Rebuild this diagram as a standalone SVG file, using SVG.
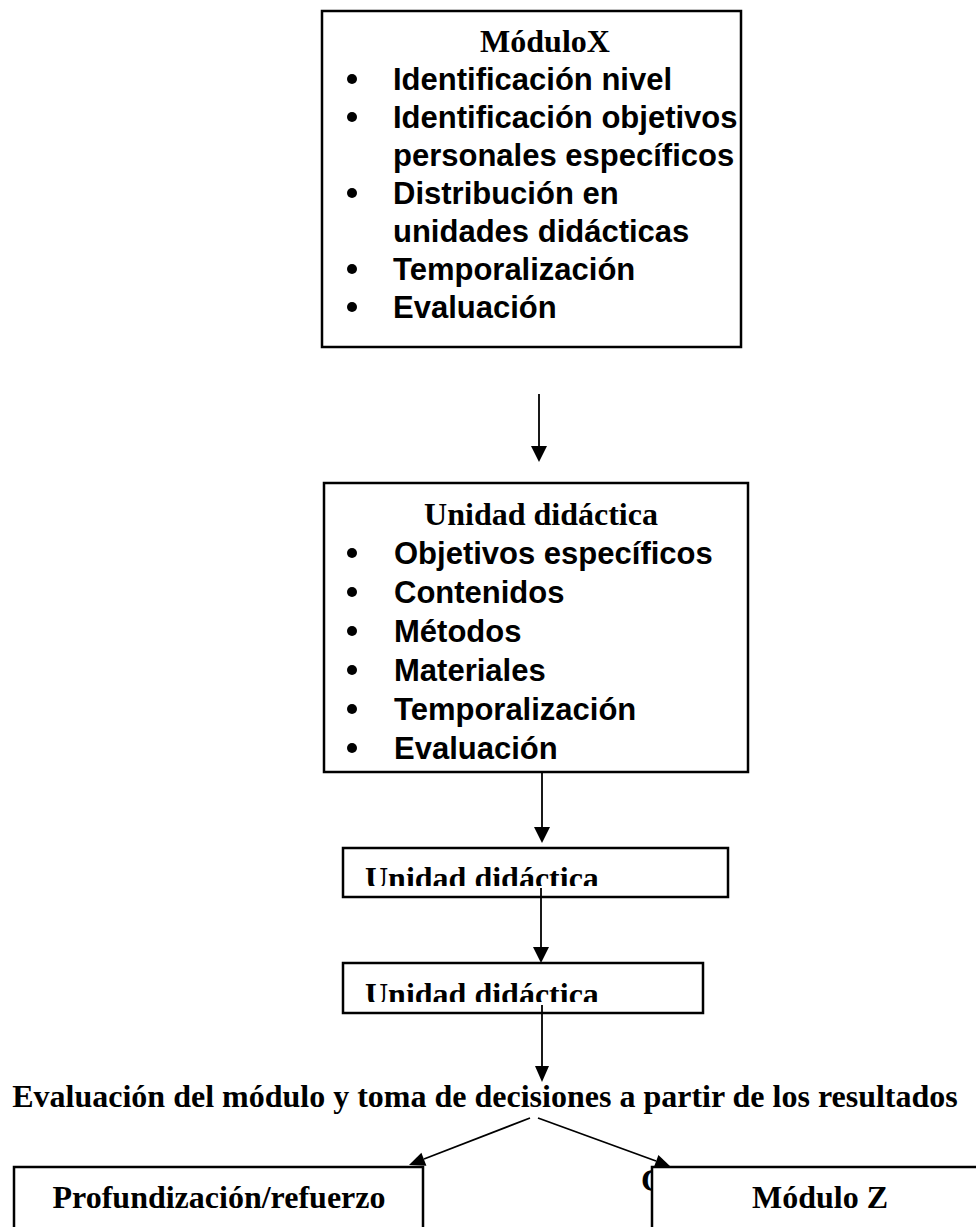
<svg xmlns="http://www.w3.org/2000/svg" width="976" height="1227" viewBox="0 0 976 1227">
<style>
.box{fill:#fff;stroke:#000;stroke-width:2.5}
.tt{font-family:"Liberation Serif","Times New Roman",serif;font-weight:bold;font-size:32px;fill:#000}
.it{font-family:"Liberation Sans",Arial,sans-serif;font-weight:bold;font-size:31px;fill:#000}
.edge{stroke:#000;stroke-width:1.8;fill:none}
.head{fill:#000}
</style>
<defs>
<clipPath id="c3"><rect x="343" y="848" width="385" height="38"/></clipPath>
<clipPath id="c4"><rect x="343" y="963" width="360" height="39"/></clipPath>
</defs>
<rect width="976" height="1227" fill="#fff"/>
<g id="modulox">
<rect class="box" x="322" y="11" width="419" height="336"/>
<text class="tt" x="545" y="52" text-anchor="middle">MóduloX</text>
<g class="head"><circle cx="352" cy="79" r="5"/><circle cx="352" cy="117" r="5"/><circle cx="352" cy="193" r="5"/><circle cx="352" cy="269" r="5"/><circle cx="352" cy="307" r="5"/></g>
<text class="it" x="393" y="90">Identificación nivel</text>
<text class="it" x="393" y="128">Identificación objetivos</text>
<text class="it" x="393" y="166">personales específicos</text>
<text class="it" x="393" y="204">Distribución en</text>
<text class="it" x="393" y="242">unidades didácticas</text>
<text class="it" x="393" y="280">Temporalización</text>
<text class="it" x="393" y="318">Evaluación</text>
</g>
<g id="unidad1">
<rect class="box" x="324" y="483" width="424" height="289"/>
<text class="tt" x="541" y="525" text-anchor="middle">Unidad didáctica</text>
<g class="head"><circle cx="352" cy="553" r="5"/><circle cx="352" cy="592" r="5"/><circle cx="352" cy="631" r="5"/><circle cx="352" cy="670" r="5"/><circle cx="352" cy="709" r="5"/><circle cx="352" cy="748" r="5"/></g>
<text class="it" x="394" y="564">Objetivos específicos</text>
<text class="it" x="394" y="603">Contenidos</text>
<text class="it" x="394" y="642">Métodos</text>
<text class="it" x="394" y="681">Materiales</text>
<text class="it" x="394" y="720">Temporalización</text>
<text class="it" x="394" y="759">Evaluación</text>
</g>
<g id="unidad2">
<rect class="box" x="343" y="848" width="385" height="49"/>
<text class="tt" x="365" y="889" clip-path="url(#c3)">Unidad didáctica</text>
</g>
<g id="unidad3">
<rect class="box" x="343" y="963" width="360" height="50"/>
<text class="tt" x="365" y="1005" clip-path="url(#c4)">Unidad didáctica</text>
</g>
<g id="evaluacion">
<text class="tt" x="485" y="1107" text-anchor="middle">Evaluación del módulo y toma de decisiones a partir de los resultados</text>
</g>
<g id="hidden-c">
<text class="tt" x="641" y="1191">C</text>
</g>
<g id="profundizacion">
<rect class="box" x="14" y="1167" width="409" height="100"/>
<text class="tt" x="219" y="1208" text-anchor="middle">Profundización/refuerzo</text>
</g>
<g id="moduloz">
<rect class="box" x="652" y="1167" width="340" height="100"/>
<text class="tt" x="820" y="1208" text-anchor="middle">Módulo Z</text>
</g>
<g id="connectors">
<line class="edge" x1="539" y1="394" x2="539" y2="448"/>
<polygon class="head" points="531,446 547,446 539,462"/>
<line class="edge" x1="542" y1="772" x2="542" y2="829"/>
<polygon class="head" points="534,827 550,827 542,843"/>
<line class="edge" x1="541" y1="888" x2="541" y2="949"/>
<polygon class="head" points="533,947 549,947 541,963"/>
<line class="edge" x1="542" y1="1005" x2="542" y2="1068"/>
<polygon class="head" points="535,1066 549,1066 542,1082"/>
<line class="edge" x1="530" y1="1118" x2="424" y2="1159"/>
<polygon class="head" points="409,1165 426.4,1165.7 421.4,1152.7"/>
<line class="edge" x1="538" y1="1118" x2="656" y2="1161"/>
<polygon class="head" points="671,1167 653.6,1168.1 658.4,1154.9"/>
</g>
</svg>
